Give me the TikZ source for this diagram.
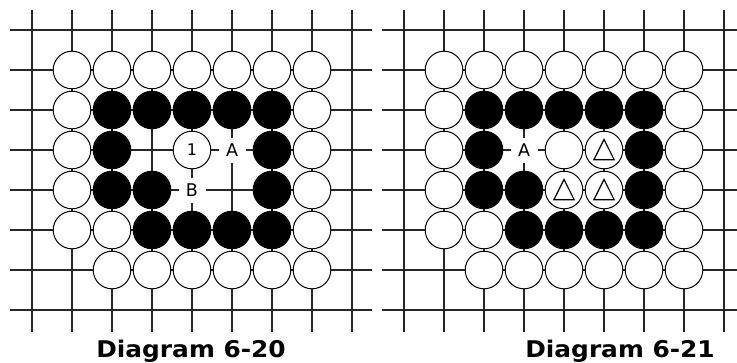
\documentclass[tikz,border=0pt]{standalone}
\usepackage{fontspec}
\newfontfamily\boardfont{DejaVu Sans}
\usetikzlibrary{positioning}
\def\gridcolor{black!85}
\def\stonesize{37.6pt}
\newcommand{\goboard}{% empty grid, 9 x 8 lines
  \foreach \c in {0,...,8}
    \draw[gridline] (\c,-0.5) -- (\c,7.55);
  \foreach \r in {0,...,7}
    \draw[gridline] (-0.55,\r) -- (8.5,\r);
}
\newcommand{\whites}[2]{%
  \foreach \c/\r in {#2}
    \node[wstone] (#1-\c-\r) at (\c,\r) {};}
\newcommand{\blacks}[2]{%
  \foreach \c/\r in {#2}
    \node[bstone] (#1-\c-\r) at (\c,\r) {};}
\newcommand{\commonstones}[1]{% stones common to both diagrams
  \whites{#1}{1/1,2/1,3/1,4/1,5/1,6/1,7/1,
    1/2,1/3,1/4,1/5,2/5,7/2,7/3,7/4,7/5,
    2/6,3/6,4/6,5/6,6/6,7/6}
  \blacks{#1}{2/2,3/2,4/2,5/2,6/2,2/3,6/3,
    2/4,3/4,6/4,3/5,4/5,5/5,6/5}
}
\newcommand{\marktri}[2]{%
  \draw[trimark] (#1,#2) ++(0,-0.265) -- ++(0.255,0.51) -- ++(-0.51,0) -- cycle;}

\begin{document}
\begin{tikzpicture}[x=1pt,y=-1pt,
    gridline/.style={draw=\gridcolor, line width=1.5pt},
    wstone/.style={circle, draw=black, fill=white, line width=1pt,
        minimum size=\stonesize, inner sep=0pt,
        font=\boardfont\fontsize{16}{16}\selectfont},
    bstone/.style={wstone, fill=black},
    ptmark/.style={fill=white, minimum width=27pt, minimum height=25pt,
        inner sep=0pt, font=\boardfont\fontsize{17.5}{17.5}\selectfont},
    trimark/.style={draw=black, line width=1.2pt, line join=miter},
    caption/.style={anchor=base, xscale=1.08,
        font=\boardfont\bfseries\fontsize{23}{23}\selectfont}]
  \clip (0,0) rectangle (737,362);

  % Diagram 6-20
  \begin{scope}[shift={(32pt,-30pt)}, x=40pt, y=-40pt]
    \goboard
    \commonstones{L}
    \node[wstone] (L-4-3) at (4,3) {1};
    \node[ptmark] (L-A) at (5,3) {A};
    \node[ptmark] (L-B) at (4,4) {B};
  \end{scope}
  \node[caption] (cap-L) at (191,357) {Diagram 6-20};

  % Diagram 6-21
  \begin{scope}[shift={(404pt,-30pt)}, x=40pt, y=-40pt]
    \goboard
    \commonstones{R}
    \whites{R}{4/3,5/3,4/4,5/4}
    \marktri{5}{3}
    \marktri{4}{4}
    \marktri{5}{4}
    \node[ptmark] (R-A) at (3,3) {A};
  \end{scope}
  \node[caption] (cap-R) at (620,357) {Diagram 6-21};
\end{tikzpicture}
\end{document}
